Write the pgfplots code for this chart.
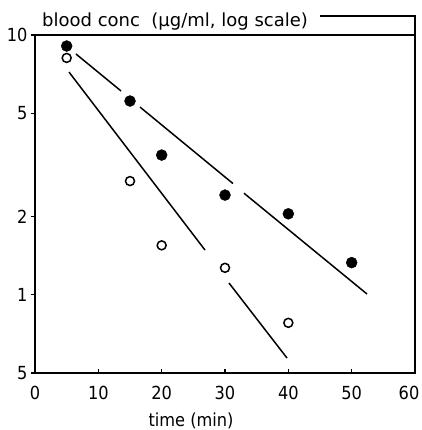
\documentclass[border=0pt]{standalone}
\usepackage{pgfplots}
\pgfplotsset{compat=1.18}
\usepackage{fontspec}
\setmainfont{DejaVu Sans}[FakeStretch=0.9]
\newfontfamily\titlefont{DejaVu Sans}
\begin{document}
\begin{tikzpicture}
\begin{axis}[
  scale only axis, width=380pt, height=338pt,
  at={(0pt,0pt)}, anchor=south west,
  xmin=0, xmax=60, ymin=0.5, ymax=10, ymode=log,
  xtick={0,10,20,30,40,50,60},
  xticklabels={0,10,20,30,40,50,\hspace{-12pt}60},
  ytick={0.5,1,2,5,10}, yticklabels={5,1,2,5,10},
  yminorticks=false,
  xtick pos=bottom, ytick pos=left,
  xtick align=inside, ytick align=outside,
  major tick length=4pt,
  tick style={line width=1.4pt, black},
  axis line style={line width=1.6pt},
  ticklabel style={font=\fontsize{18}{20}\selectfont},
  xticklabel style={yshift=-10pt},
  /pgf/number format/assume math mode=true,
  clip=false,
]
% fitted lines (broken around the points)
\addplot[black, line width=1.5pt] coordinates {(6.47,8.45) (13.58,6.09)};
\addplot[black, line width=1.5pt] coordinates {(16.58,5.28) (31.26,2.68)};
\addplot[black, line width=1.5pt] coordinates {(33.0,2.46) (52.42,1.007)};
\addplot[black, line width=1.5pt] coordinates {(5.37,7.20) (26.84,1.487)};
\addplot[black, line width=1.5pt] coordinates {(30.63,1.11) (39.79,0.571)};
% filled points
\addplot[only marks, mark=*, mark size=5.5pt, black] coordinates {
  (5,9.07) (15,5.57) (20,3.45) (30,2.42) (40,2.05) (50,1.33)};
% open points
\addplot[only marks, mark=o, mark size=4.5pt, black, line width=1.5pt] coordinates {
  (5,8.16) (15,2.74) (20,1.55) (30,1.27) (40,0.78)};
\end{axis}
\node[anchor=base west, font=\titlefont\fontsize{18}{20}\selectfont, inner sep=0pt] at (7pt,346pt) {blood conc\ \ (µg/ml, log scale)};
\draw[line width=1.4pt] (285pt,357pt) -- (380pt,357pt) -- (380pt,338pt);
\node[anchor=base, font=\fontsize{18}{20}\selectfont, inner sep=0pt] at (156pt,-54pt) {time (min)};
\pgfresetboundingbox
\path (-35pt,-57pt) rectangle (386pt,373pt);
\end{tikzpicture}
\end{document}
